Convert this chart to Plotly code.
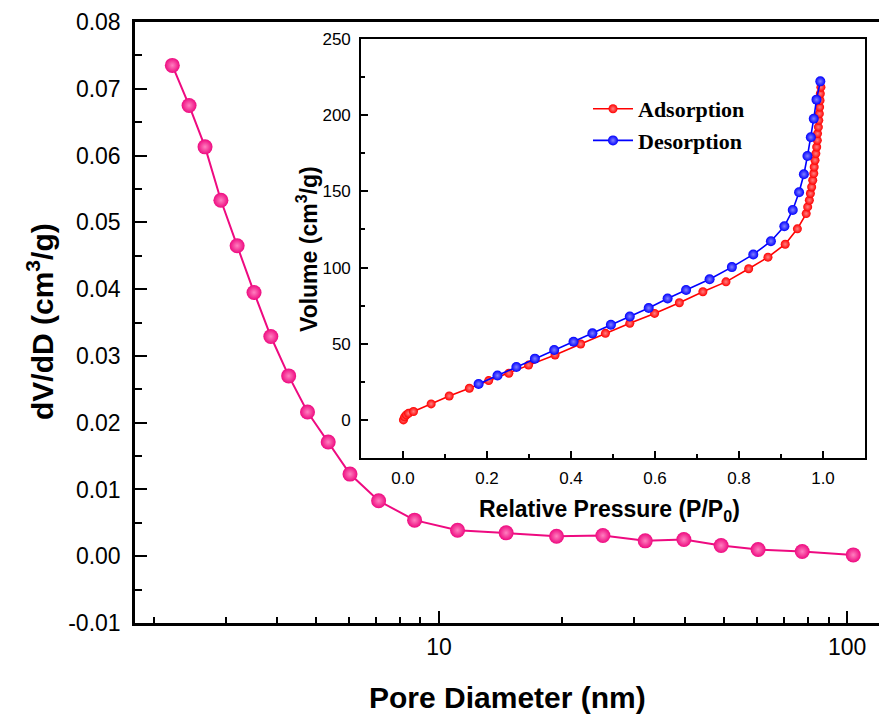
import plotly.graph_objects as go

# ---- main chart data: pore size distribution ----
pore_diameter = [2.22, 2.44, 2.67, 2.92, 3.20, 3.52, 3.87, 4.28, 4.76, 5.35, 6.05, 7.11,
                 8.71, 11.1, 14.6, 19.4, 25.2, 32.0, 39.8, 49.1, 60.5, 77.6, 103.5]
dvdd = [0.0735, 0.0675, 0.0613, 0.0533, 0.0465, 0.0395, 0.0329, 0.0270, 0.0216, 0.0171,
        0.0123, 0.0083, 0.0054, 0.0039, 0.0035, 0.0030, 0.0031, 0.0023, 0.0025, 0.0016,
        0.0010, 0.0007, 0.0002]

# ---- inset data: N2 isotherm ----
p_ads = [0.001, 0.004, 0.008, 0.013, 0.025, 0.067, 0.110, 0.158, 0.204, 0.252, 0.299, 0.362,
         0.423, 0.482, 0.540, 0.599, 0.658, 0.714, 0.769, 0.823, 0.869, 0.910, 0.939, 0.960,
         0.9635, 0.9675, 0.970, 0.973, 0.9755, 0.978, 0.979, 0.981, 0.983, 0.985, 0.9865,
         0.987, 0.989, 0.990, 0.9913, 0.992, 0.993, 0.9936, 0.995]
v_ads = [0.0, 2.0, 3.3, 4.3, 5.5, 10.5, 15.7, 20.8, 25.8, 30.6, 36.0, 42.6, 49.8, 56.8, 63.4,
         69.9, 76.9, 84.1, 90.6, 99.2, 106.8, 115.3, 125.4, 135.4, 139.8, 144.2, 148.6, 152.9,
         157.3, 161.7, 166.0, 170.4, 174.8, 179.1, 183.5, 187.9, 192.2, 196.6, 201.0, 205.3,
         209.7, 214.1, 218.4]
p_des = [0.9936, 0.9845, 0.978, 0.971, 0.963, 0.9545, 0.943, 0.928, 0.908, 0.876, 0.834, 0.783,
         0.730, 0.674, 0.630, 0.585, 0.540, 0.495, 0.451, 0.406, 0.360, 0.314, 0.270, 0.225, 0.180]
v_des = [222.2, 210.2, 197.7, 185.5, 173.2, 161.2, 149.4, 137.8, 127.1, 117.3, 108.6, 100.3,
         92.3, 85.3, 79.7, 73.4, 67.9, 62.5, 56.8, 51.3, 45.9, 40.2, 34.7, 29.1, 23.6]

main_yticks = [-0.01, 0.00, 0.01, 0.02, 0.03, 0.04, 0.05, 0.06, 0.07, 0.08]
main_xticks = [10, 100]
main_xminor = [2, 3, 4, 5, 6, 7, 8, 9, 20, 30, 40, 50, 60, 70, 80, 90]
inset_xticks = [0.0, 0.2, 0.4, 0.6, 0.8, 1.0]
inset_yticks = [0, 50, 100, 150, 200, 250]

W, H = 879, 715
SANS = "Liberation Sans, Arial, sans-serif"
SERIF = "Liberation Serif, Times New Roman, serif"
PINK = "#ee0a80"

fig = go.Figure()

fig.add_trace(go.Scatter(
    x=pore_diameter, y=dvdd, mode="lines+markers", showlegend=False,
    line=dict(color=PINK, width=2),
    marker=dict(size=15, color=PINK, gradient=dict(type="radial", color="#ff80c0")),
    xaxis="x", yaxis="y"))

fig.add_trace(go.Scatter(
    x=p_ads, y=v_ads, mode="lines+markers", name="Adsorption",
    line=dict(color="#ff0000", width=1.6),
    marker=dict(size=9, color="#ff0000", gradient=dict(type="radial", color="#ff8080")),
    xaxis="x2", yaxis="y2"))

fig.add_trace(go.Scatter(
    x=p_des, y=v_des, mode="lines+markers", name="Desorption",
    line=dict(color="#0000ff", width=1.6),
    marker=dict(size=10, color="#0000ff", gradient=dict(type="radial", color="#8080ff")),
    xaxis="x2", yaxis="y2"))

# pixel helpers
def px_x(p):
    return p / W

def px_y(p):
    return 1 - p / H

fig.update_layout(
    width=W, height=H,
    margin=dict(l=0, r=0, t=0, b=0, autoexpand=False),
    paper_bgcolor="white", plot_bgcolor="white",
    font=dict(family=SANS, color="black"),
    xaxis=dict(
        type="log", domain=[px_x(135), 1.0], range=[0.2549, 2.078],
        tickvals=main_xticks, ticktext=[str(v) for v in main_xticks],
        ticks="inside", ticklen=12, tickwidth=2, tickcolor="black",
        minor=dict(tickvals=main_xminor, ticks="inside", ticklen=6, tickwidth=2, tickcolor="black"),
        showline=True, linewidth=2.5, linecolor="black", mirror=True,
        showgrid=False, zeroline=False, automargin=False,
        tickfont=dict(size=23, family=SANS), ticklabelstandoff=2,
        anchor="y"),
    yaxis=dict(
        domain=[px_y(623), px_y(22)], range=[-0.01, 0.08],
        tickvals=main_yticks, ticktext=[f"{v:.2f}" for v in main_yticks],
        ticks="inside", ticklen=12, tickwidth=2, tickcolor="black",
        minor=dict(dtick=0.005, tick0=0, ticks="inside", ticklen=7, tickwidth=2, tickcolor="black"),
        showline=True, linewidth=2.5, linecolor="black", mirror=False,
        showgrid=False, zeroline=False, automargin=False,
        tickfont=dict(size=23, family=SANS), ticklabelstandoff=7,
        anchor="x"),
    xaxis2=dict(
        domain=[px_x(361), px_x(865)], range=[-0.1, 1.1],
        tickvals=inset_xticks, ticktext=[f"{v:.1f}" for v in inset_xticks],
        ticks="inside", ticklen=7, tickwidth=1.5, tickcolor="black",
        minor=dict(dtick=0.1, tick0=0, ticks="inside", ticklen=4, tickwidth=1.5, tickcolor="black"),
        showline=True, linewidth=1.6, linecolor="black", mirror=True,
        showgrid=False, zeroline=False, automargin=False,
        tickfont=dict(size=17, family=SANS), ticklabelstandoff=4,
        anchor="y2"),
    yaxis2=dict(
        domain=[px_y(458), px_y(39)], range=[-25, 250],
        tickvals=inset_yticks, ticktext=[str(v) for v in inset_yticks],
        ticks="inside", ticklen=7, tickwidth=1.5, tickcolor="black",
        minor=dict(dtick=25, tick0=0, ticks="inside", ticklen=4, tickwidth=1.5, tickcolor="black"),
        showline=True, linewidth=1.6, linecolor="black", mirror=True,
        showgrid=False, zeroline=False, automargin=False,
        tickfont=dict(size=17, family=SANS), ticklabelstandoff=5,
        anchor="x2"),
    legend=dict(
        x=px_x(588), y=px_y(88), xanchor="left", yanchor="top",
        bgcolor="rgba(0,0,0,0)", borderwidth=0,
        font=dict(family=SERIF, size=22, color="black", weight="bold"),
        tracegroupgap=0, itemwidth=40),
    annotations=[
        dict(text="<b>Pore Diameter (nm)</b>", x=px_x(507), y=px_y(697),
             xref="paper", yref="paper", showarrow=False,
             font=dict(size=30, family=SANS), xanchor="center", yanchor="middle"),
        dict(text="<b>dV/dD (cm<sup>3</sup>/g)</b>", x=px_x(40), y=px_y(322),
             xref="paper", yref="paper", showarrow=False, textangle=-90,
             font=dict(size=30, family=SANS), xanchor="center", yanchor="middle"),
        dict(text="<b>Relative Pressure (P/P<sub>0</sub>)</b>", x=px_x(609), y=px_y(510),
             xref="paper", yref="paper", showarrow=False,
             font=dict(size=23, family=SANS), xanchor="center", yanchor="middle"),
        dict(text="<b>Volume (cm<sup>3</sup>/g)</b>", x=px_x(307), y=px_y(249),
             xref="paper", yref="paper", showarrow=False, textangle=-90,
             font=dict(size=23, family=SANS), xanchor="center", yanchor="middle"),
    ],
)

fig.write_html("out.html")
